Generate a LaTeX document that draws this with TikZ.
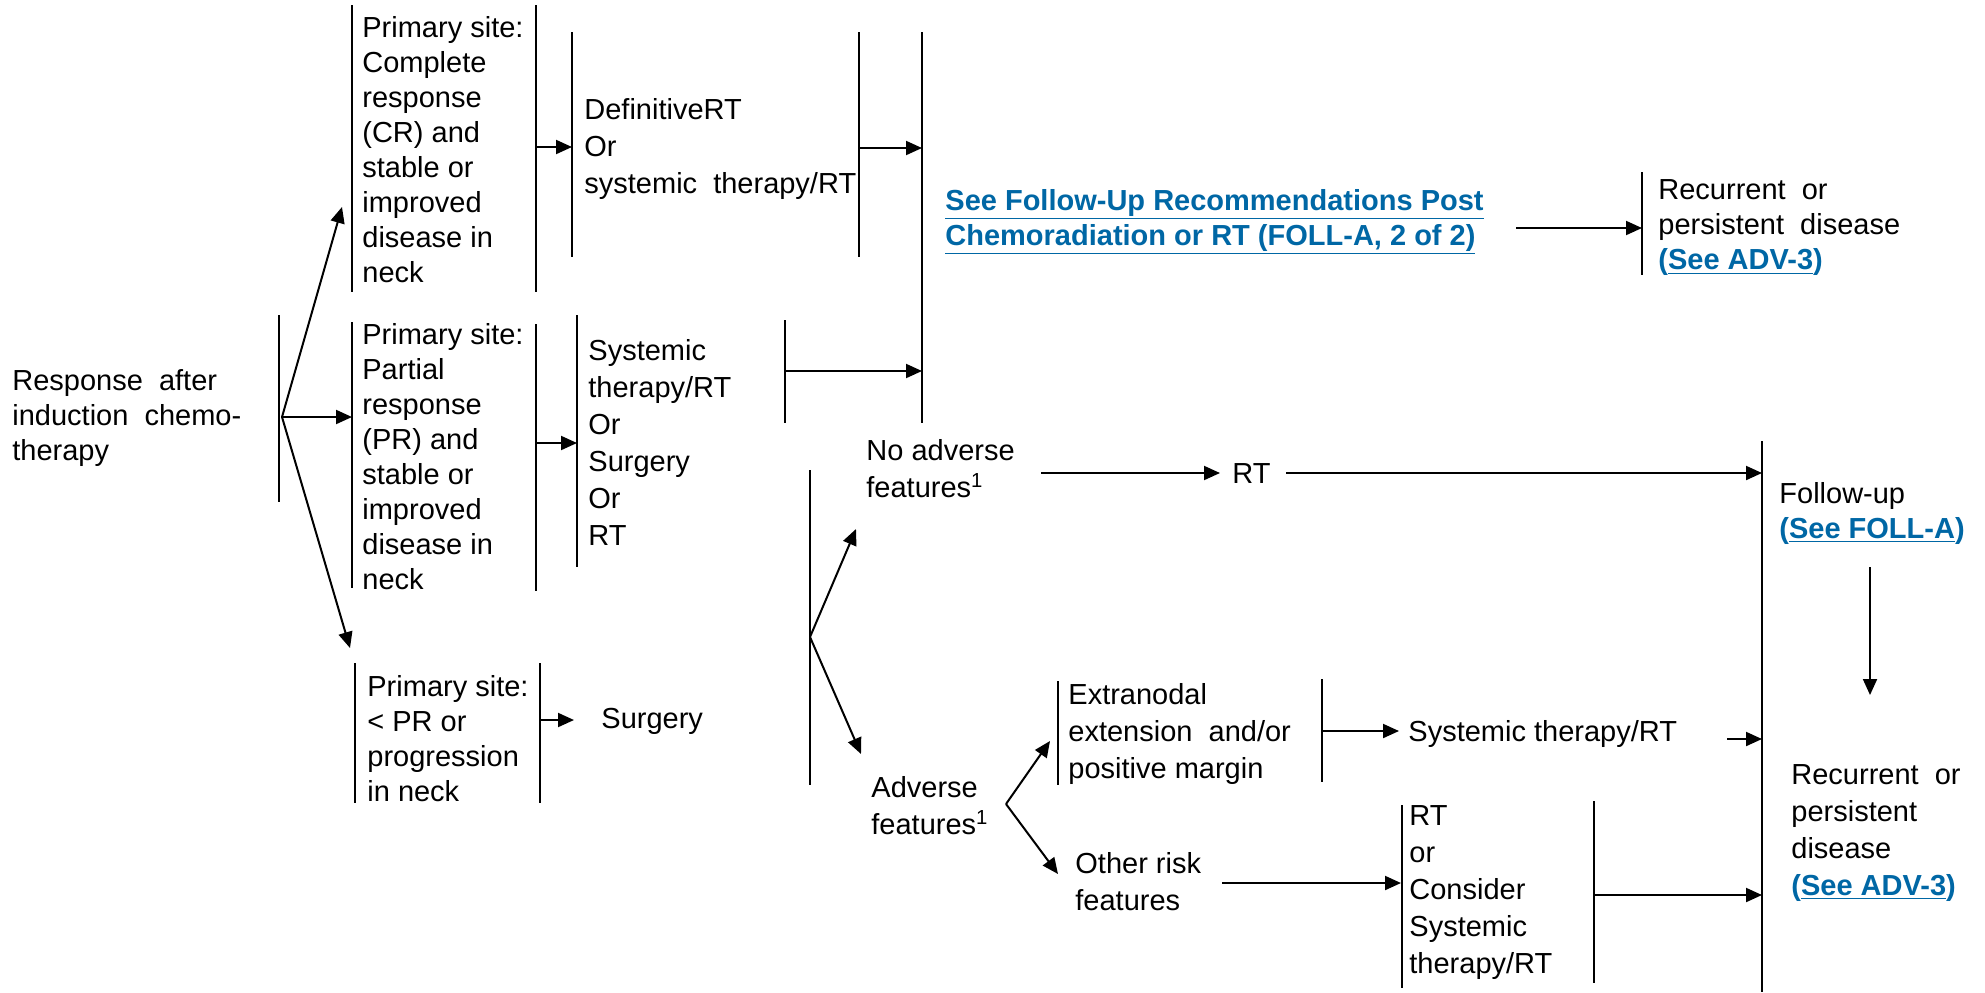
\documentclass[tikz,border=0pt]{standalone}
\usepackage{fontspec}
\setmainfont{Liberation Sans}
\usetikzlibrary{arrows.meta}
\definecolor{linkblue}{RGB}{0,103,165}
\newcommand{\seelink}[1]{\textcolor{linkblue}{\bfseries\underline{#1}}}
\newcommand{\seeref}[1]{\textcolor{linkblue}{\bfseries(\underline{#1})}}
\tikzset{
	txt/.style={font=\fontsize{14.5}{17.5}\selectfont, align=left, inner sep=0pt, anchor=west},
	txtl/.style={txt, font=\fontsize{14.5}{18.5}\selectfont},
	bar/.style={line width=0.8pt},
	arr/.style={line width=1pt, -{Triangle[length=8pt,width=7pt]}}
}
\begin{document}
\begin{tikzpicture}[x=0.5pt,y=-0.5pt]
	\useasboundingbox (0,0) rectangle (1985,992);
	% texts
	\node[txt] at (12,418) (resp) {Response\ \ after\\induction\ \ chemo-\\therapy};
	\node[txt] at (362,150) (cr) {Primary site:\\Complete\\response\\(CR) and\\stable or\\improved\\disease in\\neck};
	\node[txt] at (362,457) (pr) {Primary site:\\Partial\\response\\(PR) and\\stable or\\improved\\disease in\\neck};
	\node[txt] at (367,739) (lpr) {Primary site:\\< PR or\\progression\\in neck};
	\node[txtl] at (584,149) (defrt) {DefinitiveRT\\Or\\systemic\ \ therapy/RT};
	\node[txtl] at (588,442) (sysor) {Systemic\\therapy/RT\\Or\\Surgery\\Or\\RT};
	\node[txt] at (601,721) (surg) {Surgery};
	\node[txt] at (945,222) (foll) {\seelink{See Follow-Up Recommendations Post}\\\seelink{Chemoradiation or RT (FOLL-A, 2 of 2)}};
	\node[txt] at (1658,228) (recur1) {Recurrent\ \ or\\persistent\ \ disease\\\seeref{See ADV-3}};
	\node[txtl] at (866,469) (noadv) {No adverse\\features\textsuperscript{1}};
	\node[txtl] at (871,806) (adv) {Adverse\\features\textsuperscript{1}};
	\node[txt] at (1232,474) (rt) {RT};
	\node[txt] at (1779,513) (fup) {Follow-up\\\seeref{See FOLL-A}};
	\node[txtl] at (1068,734) (extra) {Extranodal\\extension\ \ and/or\\positive margin};
	\node[txt] at (1408,734) (sysrt) {Systemic therapy/RT};
	\node[txtl] at (1075,882) (other) {Other risk\\features};
	\node[txtl] at (1409,893) (rtor) {RT\\or\\Consider\\Systemic\\therapy/RT};
	\node[txtl] at (1791,833) (recur2) {Recurrent\ \ or\\persistent\\disease\\\seeref{See ADV-3}};
	% bars
	\draw[bar] (279,315) -- (279,502);
	\draw[bar] (352,5) -- (352,292) (536,5) -- (536,292);
	\draw[bar] (352,322) -- (352,588) (536,324) -- (536,591);
	\draw[bar] (355,663) -- (355,803) (540,663) -- (540,803);
	\draw[bar] (572,32) -- (572,257) (859,32) -- (859,257);
	\draw[bar] (577,315) -- (577,567);
	\draw[bar] (785,320) -- (785,423);
	\draw[bar] (922,32) -- (922,423);
	\draw[bar] (810,470) -- (810,785);
	\draw[bar] (1058,681) -- (1058,785) (1322,679) -- (1322,782);
	\draw[bar] (1402,805) -- (1402,988) (1594,801) -- (1594,983);
	\draw[bar] (1642,172) -- (1642,275);
	\draw[bar] (1762,441) -- (1762,992);
	% connector ends
	\coordinate (fk0) at (282,417);
	\coordinate (crin) at (342,207);
	\coordinate (prin) at (352,417);
	\coordinate (lpin) at (350,648);
	\coordinate (crout) at (536,147);
	\coordinate (defin) at (572,147);
	\coordinate (defout) at (859,148);
	\coordinate (bigin1) at (922,148);
	\coordinate (prout) at (537,443);
	\coordinate (sysin) at (577,443);
	\coordinate (sysout) at (785,371);
	\coordinate (bigin2) at (922,371);
	\coordinate (lpout) at (540,720);
	\coordinate (surgin) at (574,720);
	\coordinate (fk1) at (810,637);
	\coordinate (noin) at (856,529);
	\coordinate (advin) at (861,754);
	\coordinate (noout) at (1041,473);
	\coordinate (rtin) at (1220,473);
	\coordinate (rtout) at (1286,473);
	\coordinate (fupin) at (1762,473);
	\coordinate (follout) at (1516,228);
	\coordinate (recin) at (1642,228);
	\coordinate (fupout) at (1870,567);
	\coordinate (rec2in) at (1870,695);
	\coordinate (fk2) at (1006,804);
	\coordinate (exin) at (1050,741);
	\coordinate (othin) at (1058,874);
	\coordinate (exout) at (1322,731);
	\coordinate (sysrtin) at (1399,731);
	\coordinate (sysrtout) at (1727,739);
	\coordinate (fupin2) at (1762,739);
	\coordinate (othout) at (1222,883);
	\coordinate (rtorin) at (1401,883);
	\coordinate (rtorout) at (1594,895);
	\coordinate (fupin3) at (1762,895);
	% arrows
	\draw[arr] (fk0) -- (crin);
	\draw[arr] (fk0) -- (prin);
	\draw[arr] (fk0) -- (lpin);
	\draw[arr] (crout) -- (defin);
	\draw[arr] (defout) -- (bigin1);
	\draw[arr] (prout) -- (sysin);
	\draw[arr] (sysout) -- (bigin2);
	\draw[arr] (lpout) -- (surgin);
	\draw[arr] (fk1) -- (noin);
	\draw[arr] (fk1) -- (advin);
	\draw[arr] (noout) -- (rtin);
	\draw[arr] (rtout) -- (fupin);
	\draw[arr] (follout) -- (recin);
	\draw[arr] (fupout) -- (rec2in);
	\draw[arr] (fk2) -- (exin);
	\draw[arr] (fk2) -- (othin);
	\draw[arr] (exout) -- (sysrtin);
	\draw[arr] (sysrtout) -- (fupin2);
	\draw[arr] (othout) -- (rtorin);
	\draw[arr] (rtorout) -- (fupin3);
\end{tikzpicture}
\end{document}
